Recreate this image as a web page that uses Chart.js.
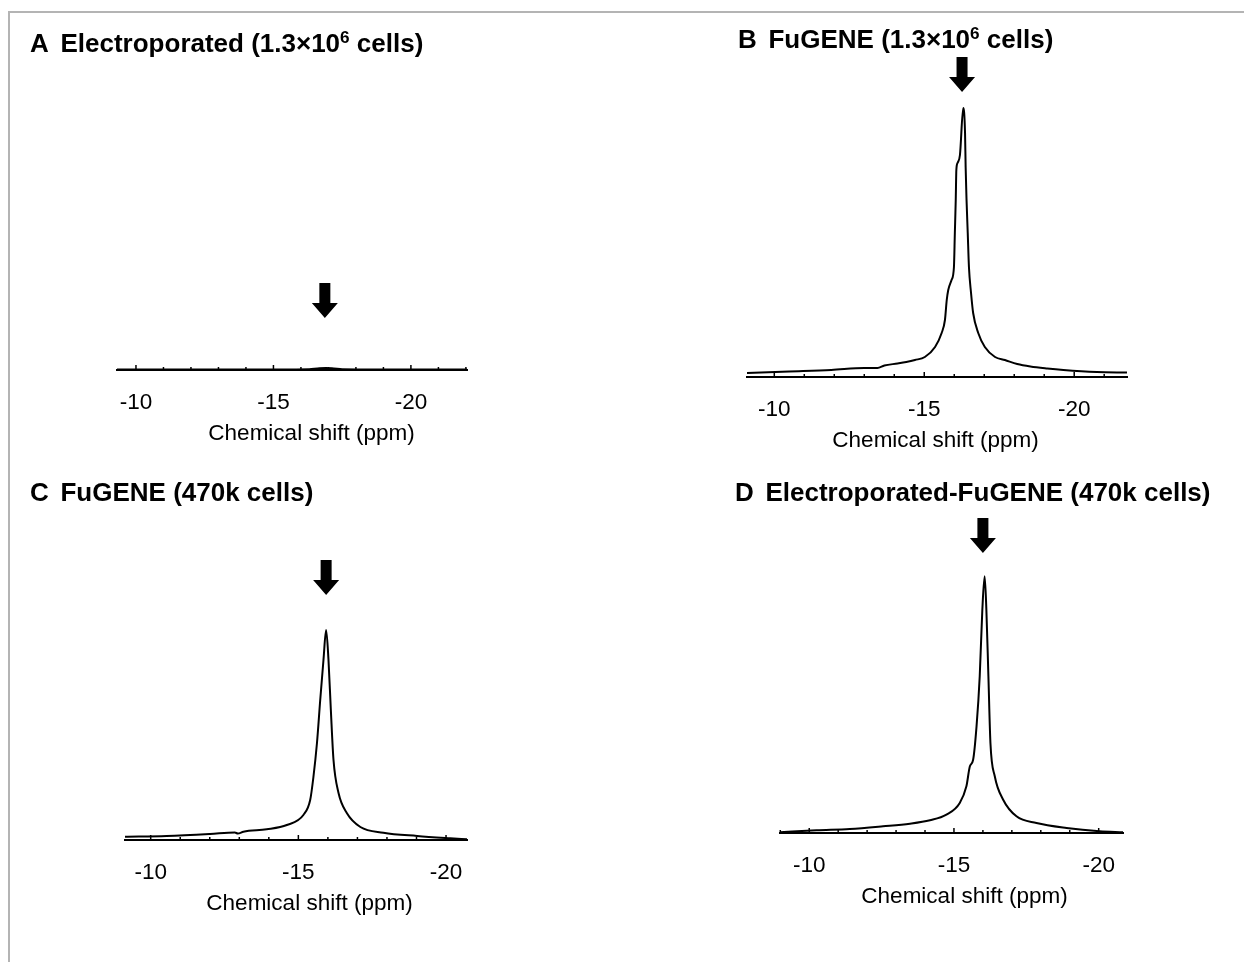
<!DOCTYPE html>
<html>
<head>
<meta charset="utf-8">
<title>19F NMR spectra</title>
<script src="https://cdn.jsdelivr.net/npm/chart.js@4.4.1/dist/chart.umd.min.js"></script>
<style>
  body { margin: 0; background: #fff; width: 1244px; height: 962px; position: relative; overflow: hidden;
         font-family: "Liberation Sans", Arial, sans-serif; }
  #frame { position: absolute; left: 8px; top: 11px; right: -10px; bottom: -10px;
           border-top: 2px solid #b4b4b4; border-left: 2px solid #b4b4b4; }
  canvas { position: absolute; }
  .title { position: absolute; font-weight: bold; font-size: 26px; line-height: 26px; color: #000;
           white-space: nowrap; z-index: 2; }
  .title .lab { margin-right: 0.45em; }
  .title sup { font-size: 0.66em; vertical-align: 0.5em; line-height: 0; }
</style>
</head>
<body>
<div id="frame"></div>

<div class="title" style="left:30px; top:30px;"><span class="lab">A</span>Electroporated (1.3×10<sup>6</sup> cells)</div>
<div class="title" style="left:738px; top:26px;"><span class="lab">B</span>FuGENE (1.3×10<sup>6</sup> cells)</div>
<div class="title" style="left:30px; top:479px;"><span class="lab">C</span>FuGENE (470k cells)</div>
<div class="title" style="left:735px; top:479px;"><span class="lab">D</span>Electroporated-FuGENE (470k cells)</div>

<canvas id="chartA" width="390" height="420" style="left:97px; top:30px;"></canvas>
<canvas id="chartB" width="420" height="420" style="left:727px; top:37px;"></canvas>
<canvas id="chartC" width="382" height="420" style="left:105px; top:500px;"></canvas>
<canvas id="chartD" width="383" height="420" style="left:760px; top:493px;"></canvas>

<script>
// --- spectra (chemical shift in ppm, intensity in arbitrary units) ---
const ppmA = [-9.31, -11, -13, -15, -16.3, -16.6, -16.9, -17.2, -17.5, -19, -21, -22.04];
const intA = [0.5, 0.5, 0.5, 0.6, 0.8, 1.5, 2, 1.5, 0.8, 0.6, 0.5, 0.5];

const ppmB = [-9.09, -10.5, -11.9, -13.0, -13.44, -13.67, -14.11, -14.4, -14.69, -15.02, -15.36, -15.58,
              -15.69, -15.75, -15.80, -15.91, -15.99, -16.02, -16.05, -16.07, -16.11, -16.19, -16.30,
              -16.36, -16.38, -16.41, -16.45, -16.49, -16.56, -16.63, -16.80, -17.02, -17.36, -17.69,
              -18.1, -18.54, -19.1, -19.64, -20.75, -21.76];
const intB = [4, 5.5, 7, 9, 9, 11.5, 13.5, 15, 17, 20, 30, 44,
              57, 77, 87, 97, 110, 144, 177, 207, 214, 222, 269,
              244, 210, 177, 144, 110, 84, 64, 44, 30, 20, 17,
              13, 10.5, 8.5, 7, 5, 4.5];

const ppmC = [-9.13, -10.54, -12.01, -12.85, -12.95, -13.14, -13.93, -14.61, -15.17, -15.40, -15.51, -15.63,
              -15.74, -15.85, -15.94, -16.02, -16.10, -16.19, -16.36, -16.64, -17.10, -17.88, -19.02,
              -20.14, -20.71];
const intC = [3.3, 4, 6, 7.5, 6.5, 8.3, 10.7, 15, 25, 40, 63, 97,
              140, 180, 210, 180, 130, 80, 47, 27, 13, 7.3, 4,
              1.7, 0.7];

const ppmD = [-8.99, -10.25, -11.40, -12.55, -13.48, -14.17, -14.74, -15.20, -15.43, -15.55, -15.66, -15.78,
              -15.89, -15.98, -16.06, -16.12, -16.19, -16.26, -16.41, -16.70, -17.16, -17.85, -18.89,
              -20.03, -20.84];
const intD = [0.7, 2.7, 4, 6.7, 9.3, 12.7, 18.3, 30, 46.7, 66.7, 73, 106.7,
              156.7, 223, 256.7, 223, 156.7, 90, 56.7, 33.3, 16.7, 10, 5,
              1.7, 0.7];

// axis limits [upfield, downfield] for each panel
const rangeA = [-22.04, -9.31];
const rangeB = [-21.76, -9.09];
const rangeC = [-20.71, -9.13];
const rangeD = [-20.84, -8.99];

// arrows: peak position (ppm) and arrow tip height (same units as intensity)
const arrowPpm = [-16.87, -16.26, -15.94, -16.0];
const arrowTip = [52, 285, 245, 280];

const AXIS_TITLE = 'Chemical shift (ppm)';
const FONT = '"Liberation Sans", Arial, sans-serif';

// inward tick marks (major every 5 ppm, minor every 1 ppm), axis title and the peak arrow
const axisMarks = {
  id: 'axisMarks',
  afterDraw(chart, args, opts) {
    const ctx = chart.ctx;
    const xs = chart.scales.x;
    const ys = chart.scales.y;
    const y0 = xs.top;
    ctx.save();
    ctx.strokeStyle = '#000';
    ctx.lineWidth = 1.5;
    for (let v = Math.ceil(xs.min); v <= Math.floor(xs.max); v++) {
      const px = xs.getPixelForValue(v);
      const len = v % 5 === 0 ? 5 : 3;
      ctx.beginPath();
      ctx.moveTo(px, y0);
      ctx.lineTo(px, y0 - len);
      ctx.stroke();
    }

    ctx.fillStyle = '#000';
    ctx.font = '22.5px ' + FONT;
    ctx.textAlign = 'center';
    ctx.textBaseline = 'middle';
    ctx.fillText(AXIS_TITLE, (xs.left + xs.right) / 2 + opts.titleShift, y0 + 64);

    const ax = xs.getPixelForValue(opts.arrowAt);
    const ay = ys.getPixelForValue(opts.arrowTip);
    ctx.beginPath();
    ctx.moveTo(ax, ay);
    ctx.lineTo(ax - 13, ay - 15);
    ctx.lineTo(ax - 5.5, ay - 15);
    ctx.lineTo(ax - 5.5, ay - 35);
    ctx.lineTo(ax + 5.5, ay - 35);
    ctx.lineTo(ax + 5.5, ay - 15);
    ctx.lineTo(ax + 13, ay - 15);
    ctx.closePath();
    ctx.fill();
    ctx.restore();
  }
};

function makeSpectrum(id, ppm, inten, range, arrowAt, tip, titleShift) {
  return new Chart(document.getElementById(id), {
    type: 'line',
    data: {
      datasets: [{
        data: ppm.map((p, i) => ({ x: p, y: inten[i] })),
        borderColor: '#000',
        borderWidth: 2,
        pointRadius: 0,
        fill: false,
        cubicInterpolationMode: 'monotone'
      }]
    },
    options: {
      responsive: false,
      animation: false,
      layout: { padding: { top: 20, left: 20, right: 20, bottom: 0 } },
      plugins: {
        legend: { display: false },
        tooltip: { enabled: false },
        axisMarks: { arrowAt: arrowAt, arrowTip: tip, titleShift: titleShift }
      },
      scales: {
        x: {
          type: 'linear',
          reverse: true,
          min: range[0],
          max: range[1],
          grid: { display: false, drawTicks: false },
          border: { display: true, color: '#000', width: 2 },
          ticks: {
            stepSize: 5, includeBounds: false, autoSkip: false, maxRotation: 0, minRotation: 0,
            padding: 19, color: '#000', font: { family: FONT, size: 22.5 }
          },
          title: { display: false },
          afterFit: (s) => { s.height = 80; }
        },
        y: { display: false, min: 0, max: 320 }
      }
    },
    plugins: [axisMarks]
  });
}

makeSpectrum('chartA', ppmA, intA, rangeA, arrowPpm[0], arrowTip[0], 19.5);
makeSpectrum('chartB', ppmB, intB, rangeB, arrowPpm[1], arrowTip[1], -1.5);
makeSpectrum('chartC', ppmC, intC, rangeC, arrowPpm[2], arrowTip[2], 13.5);
makeSpectrum('chartD', ppmD, intD, rangeD, arrowPpm[3], arrowTip[3], 13);
</script>
</body>
</html>
